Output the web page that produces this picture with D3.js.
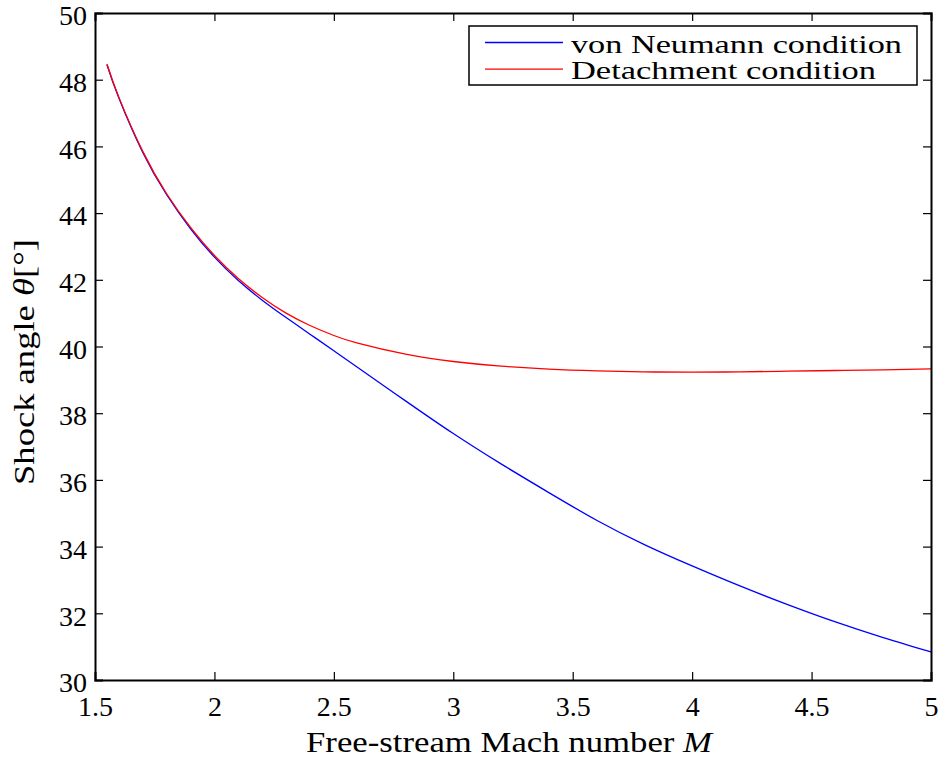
<!DOCTYPE html>
<html><head><meta charset="utf-8">
<script src="https://cdn.jsdelivr.net/npm/d3@7"></script>
<style>body{margin:0;background:#fff}svg{display:block}svg text{font-family:"Liberation Serif","DejaVu Serif","Times New Roman",serif}</style>
</head><body>
<svg id="chart" width="939" height="757"></svg>
<script>
const mach = [1.55,1.6,1.7,1.8,1.9,2.0,2.1,2.2,2.3,2.4,2.5,2.6,2.8,3.0,3.2,3.4,3.6,3.8,4.0,4.2,4.4,4.6,4.8,5.0];
const vonNeumann = [48.45,47.45,45.82,44.55,43.53,42.68,41.98,41.39,40.87,40.37,39.87,39.37,38.37,37.39,36.48,35.62,34.79,34.06,33.42,32.82,32.26,31.74,31.27,30.84];
const detachment = [48.47,47.47,45.85,44.58,43.57,42.73,42.04,41.47,41.00,40.63,40.33,40.10,39.77,39.55,39.41,39.32,39.27,39.24,39.23,39.24,39.26,39.28,39.30,39.33];
const xTicks = [1.5,2,2.5,3,3.5,4,4.5,5];
const yTicks = [30,32,34,36,38,40,42,44,46,48,50];
const seriesNames = ["von Neumann condition","Detachment condition"];
const seriesColors = ["#0000ff","#ff0000"];

const FONT = '"Liberation Serif","DejaVu Serif","Times New Roman",serif';
const svg = d3.select("#chart");
const L=95, R=931, T=13, B=680;
const x = d3.scaleLinear().domain([1.5,5]).range([L,R]);
const y = d3.scaleLinear().domain([30,50]).range([B,T]);

// curves
const series = [vonNeumann, detachment];
const line = d3.line().x(d=>x(d[0])).y(d=>y(d[1])).curve(d3.curveNatural);
series.forEach((vals,i)=>{
  svg.append("path").datum(mach.map((m,j)=>[m,vals[j]]))
    .attr("d",line).attr("fill","none").attr("stroke",seriesColors[i]).attr("stroke-width",1.3);
});

// axes (ticks inward)
const tl = 8;
const gx = svg.append("g").attr("transform",`translate(0,${B})`)
  .call(d3.axisBottom(x).tickValues(xTicks).tickSize(-tl).tickPadding(16).tickFormat(d3.format("")));
const gxt = svg.append("g").attr("transform",`translate(0,${T})`)
  .call(d3.axisTop(x).tickValues(xTicks).tickSize(-tl).tickFormat(""));
const gy = svg.append("g").attr("transform",`translate(${L},0)`)
  .call(d3.axisLeft(y).tickValues(yTicks).tickSize(-tl).tickPadding(8).tickFormat(d3.format("")));
const gyr = svg.append("g").attr("transform",`translate(${R},0)`)
  .call(d3.axisRight(y).tickValues(yTicks).tickSize(-tl).tickFormat(""));
[gx,gxt,gy,gyr].forEach(g=>{
  g.attr("font-family",FONT);
  g.select(".domain").attr("stroke","#000").attr("stroke-width",2);
  g.selectAll(".tick line").attr("stroke","#000").attr("stroke-width",1.2);
  g.selectAll("text").style("font-family",FONT).attr("font-size",28).attr("fill","#000");
});
gx.selectAll(".tick text").attr("dy","0.71em");
gy.selectAll(".tick text").attr("dy","0.42em");
[gx,gxt].forEach(g=>g.selectAll(".tick line").filter(d=>d===1.5||d===5).remove());
[gy,gyr].forEach(g=>g.selectAll(".tick line").filter(d=>d===30||d===50).remove());

// axis titles
const xt = svg.append("text").attr("x",(L+R)/2-4).attr("y",752).attr("text-anchor","middle")
  .style("font-family",FONT).attr("font-size",29).attr("textLength",406).attr("lengthAdjust","spacingAndGlyphs");
xt.append("tspan").text("Free-stream Mach number ");
xt.append("tspan").attr("font-style","italic").text("M");

const yt = svg.append("text").attr("transform",`translate(34,362) rotate(-90)`).attr("text-anchor","middle")
  .style("font-family",FONT).attr("font-size",29).attr("textLength",246).attr("lengthAdjust","spacingAndGlyphs");
yt.append("tspan").text("Shock angle ");
yt.append("tspan").attr("font-style","italic").text("θ");
yt.append("tspan").text("[°]");

// legend
const lg = svg.append("g");
lg.append("rect").attr("x",469).attr("y",26).attr("width",448).attr("height",59)
  .attr("fill","#fff").attr("stroke","#000").attr("stroke-width",1.5);
seriesNames.forEach((n,i)=>{
  const yy = 42.5 + i*26.7;
  lg.append("line").attr("x1",485).attr("x2",563).attr("y1",yy).attr("y2",yy)
    .attr("stroke",seriesColors[i]).attr("stroke-width",1.3);
  lg.append("text").attr("x",571).attr("y",yy+10).style("font-family",FONT).attr("font-size",26)
    .attr("textLength", i===0?331:305).attr("lengthAdjust","spacingAndGlyphs").text(n);
});
</script>
</body></html>
